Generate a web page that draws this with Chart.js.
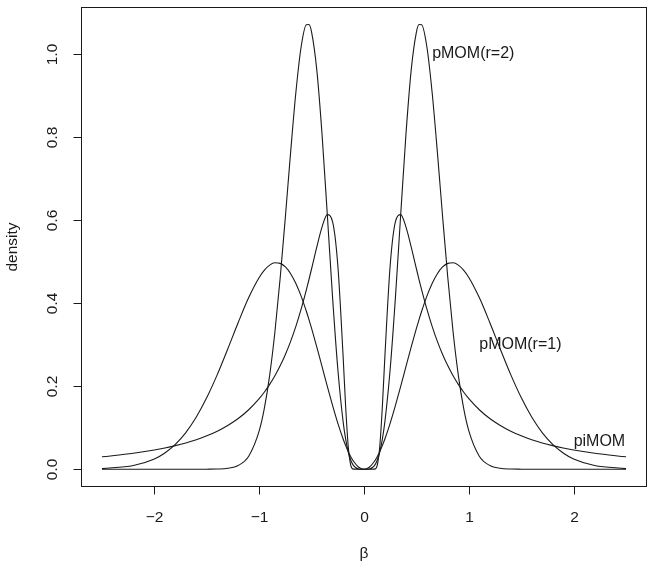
<!DOCTYPE html>
<html>
<head>
<meta charset="utf-8">
<script src="https://cdn.jsdelivr.net/npm/chart.js@4/dist/chart.umd.min.js"></script>
<style>
html,body{margin:0;padding:0;background:#fff;}
canvas{display:block;}
</style>
</head>
<body>
<canvas id="c" width="654" height="568"></canvas>
<script>
// ---- data ----
const betaX = [-2.5,-2.2,-2.0,-1.9,-1.8,-1.7,-1.6,-1.5,-1.4,-1.3,-1.2,-1.1,-1.0,-0.95,-0.9,-0.85,-0.8,-0.75,-0.7,-0.65,-0.6,-0.55,-0.525,-0.5,-0.45,-0.4,-0.35,-0.3,-0.25,-0.2,-0.175,-0.15,-0.125,-0.1,-0.05,0,0.05,0.1,0.125,0.15,0.175,0.2,0.25,0.3,0.35,0.4,0.45,0.5,0.525,0.55,0.6,0.65,0.7,0.75,0.8,0.85,0.9,0.95,1.0,1.1,1.2,1.3,1.4,1.5,1.6,1.7,1.8,1.9,2.0,2.2,2.5];

const pMOM1 = [0.0015,0.0090,0.0248,0.0392,0.0599,0.0883,0.1257,0.1725,0.2279,0.2897,0.3535,0.4134,0.4619,0.4795,0.4916,0.4972,0.4959,0.4872,0.4710,0.4474,0.4171,0.3806,0.3605,0.3392,0.2942,0.2471,0.1996,0.1537,0.1110,0.0734,0.0570,0.0423,0.0297,0.0192,0.0048,
  0,
  0.0048,0.0192,0.0297,0.0423,0.0570,0.0734,0.1110,0.1537,0.1996,0.2471,0.2942,0.3392,0.3605,0.3806,0.4171,0.4474,0.4710,0.4872,0.4959,0.4972,0.4916,0.4795,0.4619,0.4134,0.3535,0.2897,0.2279,0.1725,0.1257,0.0883,0.0599,0.0392,0.0248,0.0090,0.0015];

const pMOM2 = [0,0,0,0,0,0,0,0.0001,0.0005,0.0022,0.0090,0.0314,0.0922,0.1476,0.2262,0.3305,0.4599,0.6083,0.7639,0.9075,1.0170,1.0706,1.0712,1.0528,0.9607,0.8056,0.6128,0.4145,0.2419,0.1159,0.0725,0.0414,0.0209,0.0089,0.0006,
  0,
  0.0006,0.0089,0.0209,0.0414,0.0725,0.1159,0.2419,0.4145,0.6128,0.8056,0.9607,1.0528,1.0712,1.0706,1.0170,0.9075,0.7639,0.6083,0.4599,0.3305,0.2262,0.1476,0.0922,0.0314,0.0090,0.0022,0.0005,0.0001,0,0,0,0,0,0,0];

const piMOM = [0.0299,0.0384,0.0463,0.0511,0.0568,0.0634,0.0712,0.0805,0.0917,0.1054,0.1222,0.1433,0.1700,0.1860,0.2043,0.2252,0.2491,0.2765,0.3081,0.3442,0.3855,0.4320,0.4570,0.4829,0.5357,0.5839,0.6132,0.5964,0.4918,0.2755,0.1504,0.0534,0.0083,0.0002,0,
  0,
  0,0.0002,0.0083,0.0534,0.1504,0.2755,0.4918,0.5964,0.6132,0.5839,0.5357,0.4829,0.4570,0.4320,0.3855,0.3442,0.3081,0.2765,0.2491,0.2252,0.2043,0.1860,0.1700,0.1433,0.1222,0.1054,0.0917,0.0805,0.0712,0.0634,0.0568,0.0511,0.0463,0.0384,0.0299];

const xTickValues = [-2,-1,0,1,2];
const xTickLabels = ['\u22122','\u22121','0','1','2'];
const yTickValues = [0,0.2,0.4,0.6,0.8,1.0];
const yTickLabels = ['0.0','0.2','0.4','0.6','0.8','1.0'];

const curveLabels = ['pMOM(r=2)','pMOM(r=1)','piMOM'];
const curveLabelX = [0.65,1.1,2.0];
const curveLabelY = [1.0,0.3,0.067];

const xTitle = '\u03B2';
const yTitle = 'density';

// ---- chart ----
function pts(ys){ return betaX.map((x,i)=>({x:x,y:ys[i]})); }
const INK = '#1a1a1a';
const FONT = '"Liberation Sans", Arial, Helvetica, sans-serif';

const decor = {
  id:'decor',
  afterDraw(chart){
    const ctx = chart.ctx, a = chart.chartArea;
    const xs = chart.scales.x, ys = chart.scales.y;
    ctx.save();
    ctx.strokeStyle = INK; ctx.lineWidth = 1;
    const L = Math.round(a.left)+0.5, R = Math.round(a.right)-0.5, T = Math.round(a.top)+0.5, B = Math.round(a.bottom)-0.5;
    ctx.strokeRect(L, T, R-L, B-T);
    const tl = 8;
    ctx.fillStyle = INK;
    // x ticks
    ctx.font = '15.5px ' + FONT;
    ctx.textAlign = 'center'; ctx.textBaseline = 'alphabetic';
    xTickValues.forEach((v,i)=>{
      const px = Math.round(xs.getPixelForValue(v))+0.5;
      ctx.beginPath(); ctx.moveTo(px,B); ctx.lineTo(px,B+tl); ctx.stroke();
      ctx.fillText(xTickLabels[i], px, 522);
    });
    // y ticks
    yTickValues.forEach((v,i)=>{
      const py = Math.round(ys.getPixelForValue(v))+0.5;
      ctx.beginPath(); ctx.moveTo(L,py); ctx.lineTo(L-tl,py); ctx.stroke();
      ctx.save(); ctx.translate(57, py); ctx.rotate(-Math.PI/2);
      ctx.fillText(yTickLabels[i], 0, 0); ctx.restore();
    });
    // axis titles
    ctx.fillText(xTitle, (a.left+a.right)/2, 558);
    ctx.save(); ctx.translate(17, (a.top+a.bottom)/2); ctx.rotate(-Math.PI/2);
    ctx.fillText(yTitle, 0, 0); ctx.restore();
    // curve labels
    ctx.font = '16px ' + FONT;
    ctx.textAlign = 'left'; ctx.textBaseline = 'middle';
    curveLabels.forEach((t,i)=>{
      ctx.fillText(t, xs.getPixelForValue(curveLabelX[i]), ys.getPixelForValue(curveLabelY[i]));
    });
    ctx.restore();
  }
};

const ds = (label, ys) => ({
  label, data: pts(ys), showLine:true, borderColor:INK, borderWidth:1.1,
  pointRadius:0, fill:false, cubicInterpolationMode:'monotone'
});

new Chart(document.getElementById('c'), {
  type:'scatter',
  data:{ datasets:[ ds('pMOM(r=1)', pMOM1), ds('pMOM(r=2)', pMOM2), ds('piMOM', piMOM) ] },
  options:{
    responsive:false, animation:false, devicePixelRatio:1,
    layout:{ padding:{ left:81, right:7, top:7, bottom:81 } },
    plugins:{ legend:{display:false}, tooltip:{enabled:false} },
    scales:{
      x:{ type:'linear', min:-2.7, max:2.7, display:false },
      y:{ type:'linear', min:-0.0428, max:1.1134, display:false }
    }
  },
  plugins:[decor]
});
</script>
</body>
</html>
